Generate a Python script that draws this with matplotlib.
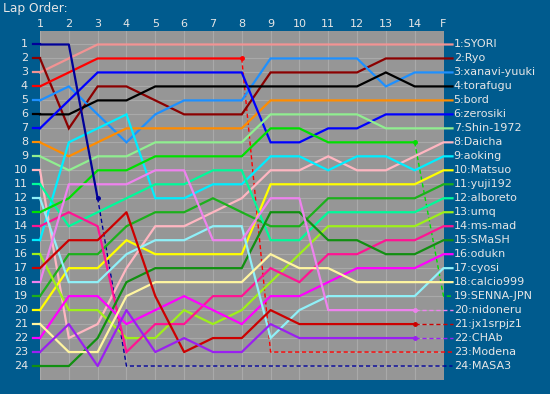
import matplotlib.pyplot as plt

# lap columns, last one is the finish
laps = ['1', '2', '3', '4', '5', '6', '7', '8', '9', '10', '11', '12', '13', '14', 'F']

# drivers in finishing order
names = ['SYORI', 'Ryo', 'xanavi-yuuki', 'torafugu', 'bord', 'zerosiki',
         'Shin-1972', 'Daicha', 'aoking', 'Matsuo', 'yuji192', 'alboreto',
         'umq', 'ms-mad', 'SMaSH', 'odukn', 'cyosi', 'calcio999', 'SENNA-JPN',
         'nidoneru', 'jx1srpjz1', 'CHAb', 'Modena', 'MASA3']

# running position of each driver at laps 1..14 and F
positions = [
    [3, 2, 1, 1, 1, 1, 1, 1, 1, 1, 1, 1, 1, 1, 1],
    [2, 7, 4, 4, 5, 6, 6, 6, 3, 3, 3, 3, 2, 2, 2],
    [5, 4, 6, 8, 6, 5, 5, 5, 2, 2, 2, 2, 4, 3, 3],
    [6, 6, 5, 5, 4, 4, 4, 4, 4, 4, 4, 4, 3, 4, 4],
    [8, 9, 8, 7, 7, 7, 7, 7, 5, 5, 5, 5, 5, 5, 5],
    [7, 5, 3, 3, 3, 3, 3, 3, 8, 8, 7, 7, 6, 6, 6],
    [9, 10, 9, 9, 8, 8, 8, 8, 6, 6, 6, 6, 7, 7, 7],
    [10, 22, 21, 17, 14, 14, 13, 12, 10, 10, 9, 10, 10, 9, 8],
    [15, 8, 7, 6, 12, 12, 11, 11, 9, 9, 10, 9, 9, 10, 9],
    [20, 17, 17, 15, 16, 16, 16, 16, 11, 11, 11, 11, 11, 11, 10],
    [19, 16, 16, 14, 13, 13, 12, 13, 14, 14, 12, 12, 12, 12, 11],
    [11, 14, 13, 12, 11, 11, 10, 10, 15, 15, 13, 13, 13, 13, 12],
    [16, 20, 20, 22, 22, 20, 21, 20, 18, 16, 14, 14, 14, 14, 13],
    [14, 13, 14, 23, 21, 21, 19, 19, 17, 18, 16, 16, 15, 15, 14],
    [24, 24, 22, 18, 17, 17, 17, 17, 13, 13, 15, 15, 16, 16, 15],
    [22, 19, 19, 21, 20, 19, 20, 21, 19, 19, 18, 17, 17, 17, 16],
    [12, 18, 18, 16, 15, 15, 14, 14, 22, 20, 19, 19, 19, 19, 17],
    [21, 23, 23, 19, 18, 18, 18, 18, 16, 17, 17, 18, 18, 18, 18],
    [13, 12, 10, 10, 9, 9, 9, 9, 7, 7, 8, 8, 8, 8, 19],
    [18, 11, 11, 11, 10, 10, 15, 15, 12, 12, 20, 20, 20, 20, 20],
    [17, 15, 15, 13, 19, 23, 22, 22, 20, 21, 21, 21, 21, 21, 21],
    [23, 21, 24, 20, 23, 22, 23, 23, 21, 22, 22, 22, 22, 22, 22],
    [4, 3, 2, 2, 2, 2, 2, 2, 23, 23, 23, 23, 23, 23, 23],
    [1, 1, 12, 24, 24, 24, 24, 24, 24, 24, 24, 24, 24, 24, 24],
]

# last lap completed on track (None = finished)
last_lap = [None] * 18 + [14, 14, 14, 14, 8, 3]

colors = ['#f29393', '#8b0000', '#1e90ff', '#000000', '#ff8c00', '#0000ff',
          '#90ee90', '#ffb6c1', '#00eeff', '#ffff00', '#1cb01c', '#00fa9a',
          '#9ef01a', '#ff1493', '#119011', '#ff00ff', '#8ff0f8', '#fff5a0',
          '#00e000', '#ee82ee', '#cc0000', '#9a20f0', '#ff0000', '#000099']

bg = '#005b8e'
txt = '#e6e6e6'

fig = plt.figure(figsize=(5.5, 3.94), dpi=100, facecolor=bg)
ax = fig.add_axes([40 / 550, 1 - 380 / 394, 403.5 / 550, 349.5 / 394])
ax.set_facecolor('#969696')

n = len(laps)
xs = list(range(1, n + 1))
ax.set_xlim(1, n)
ax.set_ylim(25, 0)
for x in xs:
    ax.axvline(x, color='#a9a9a9', lw=0.8, zorder=1)
for r in range(1, 25):
    ax.axhline(r, color='#a9a9a9', lw=0.8, zorder=1)

stub_l = 1 - 7 / 28.8
stub_r = n + 9 / 28.8

for i, ys in enumerate(positions):
    c = colors[i]
    ax.plot([stub_l, 1], [ys[0], ys[0]], color=c, lw=1.6, clip_on=False, zorder=3)
    k = last_lap[i]
    if k is None:
        ax.plot(xs + [stub_r], ys + [ys[-1]], color=c, lw=1.6,
                clip_on=False, zorder=3, solid_joinstyle='miter')
    else:
        ax.plot(xs[:k], ys[:k], color=c, lw=1.6, zorder=3)
        ax.plot(xs[k - 1:] + [stub_r], ys[k - 1:] + [ys[-1]], color=c,
                lw=1.0, ls=(0, (3, 2)), clip_on=False, zorder=2)
        ax.plot(xs[k - 1], ys[k - 1], 'o', color=c, ms=2.5, zorder=4)

# labels
for j, lab in enumerate(laps):
    ax.text(xs[j], -0.5, lab, color=txt, fontsize=8, ha='center', va='center')
for r in range(1, 25):
    ax.text(1 - 12 / 28.8, r, str(r), color=txt, fontsize=8, ha='right', va='center')
for i, nm in enumerate(names):
    ax.text(stub_r + 0.04, i + 1, f'{i + 1}:{nm}', color=txt, fontsize=8,
            ha='left', va='center')

fig.text(3 / 550, 1 - 8.5 / 394, 'Lap Order:', color=txt, fontsize=8.8,
         ha='left', va='center')

ax.set_xticks([])
ax.set_yticks([])
for s in ax.spines.values():
    s.set_visible(False)

fig.savefig('out.png', dpi=100, facecolor=bg)
